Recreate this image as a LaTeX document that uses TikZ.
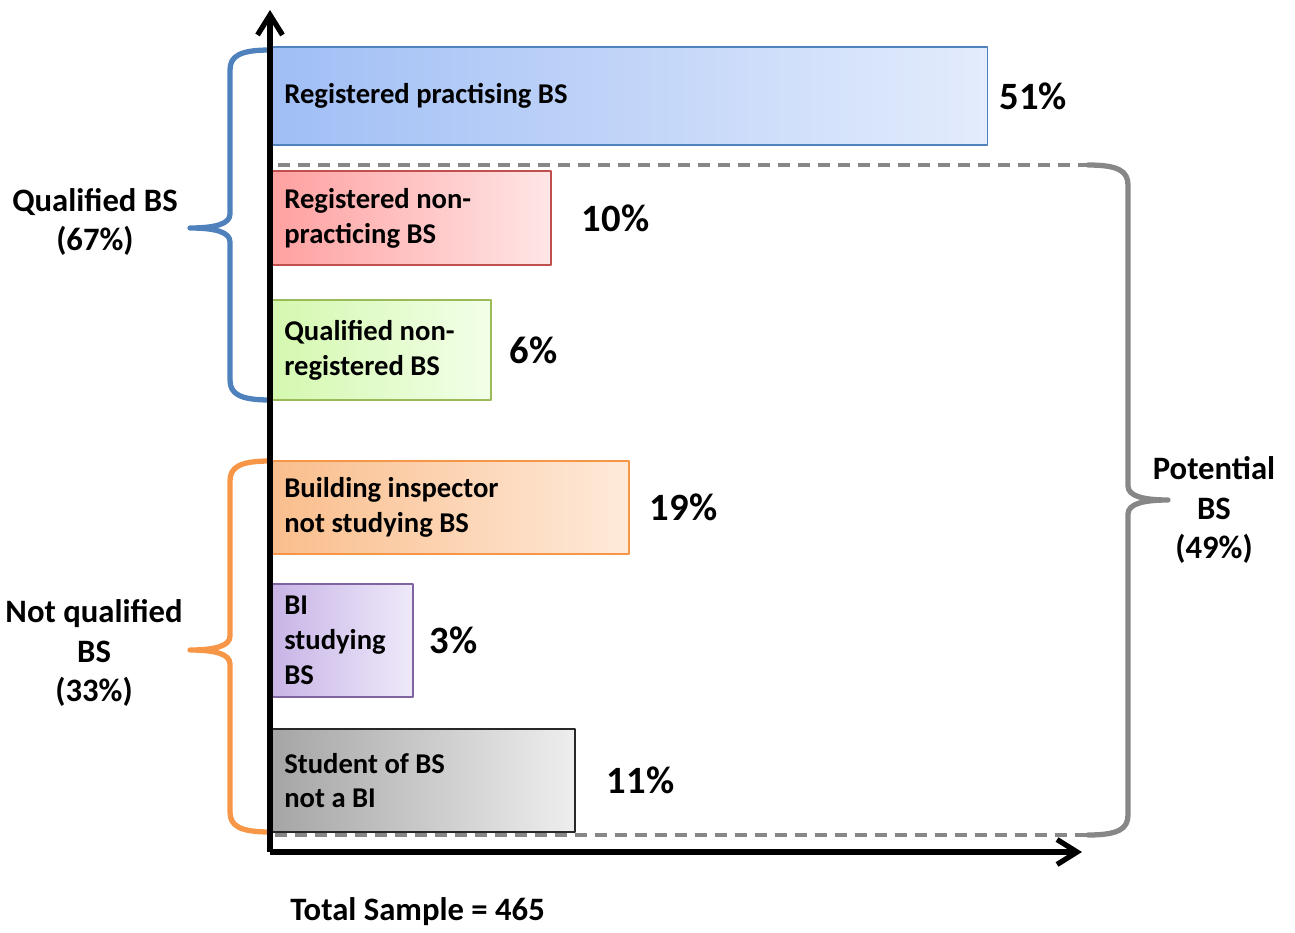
\documentclass[tikz,border=0pt]{standalone}
\usepackage{fontspec}
\setmainfont{Carlito}
\usetikzlibrary{positioning,arrows.meta}
\definecolor{bsblueD}{RGB}{79,129,189}   \definecolor{bsblueL}{RGB}{160,190,245}  \definecolor{bsblueR}{RGB}{227,236,252}
\definecolor{bsredD}{RGB}{192,80,77}     \definecolor{bsredL}{RGB}{255,160,160}   \definecolor{bsredR}{RGB}{255,230,230}
\definecolor{bsgreenD}{RGB}{155,187,89}  \definecolor{bsgreenL}{RGB}{212,248,175} \definecolor{bsgreenR}{RGB}{242,255,232}
\definecolor{bsorangeD}{RGB}{247,150,70} \definecolor{bsorangeL}{RGB}{250,190,140}\definecolor{bsorangeR}{RGB}{254,234,218}
\definecolor{bspurpleD}{RGB}{128,100,162}\definecolor{bspurpleL}{RGB}{200,180,230}\definecolor{bspurpleR}{RGB}{238,233,250}
\definecolor{bsgrayD}{RGB}{40,40,40}     \definecolor{bsgrayL}{RGB}{165,165,165}  \definecolor{bsgrayR}{RGB}{238,238,238}
\definecolor{bsgray}{RGB}{135,135,135}
\tikzset{
  bar/.style={draw, line width=.9pt, anchor=west, inner sep=0pt, minimum height=#1},
  lab/.style={anchor=west, align=left, inner sep=0pt, font=\fontsize{16.3}{19.8}\selectfont\bfseries},
  pct/.style={anchor=west, inner sep=0pt, font=\fontsize{22}{26}\selectfont\bfseries},
  side/.style={align=center, inner sep=0pt, font=\fontsize{18.6}{22.7}\selectfont\bfseries},
  bsbrace/.style={line width=3pt, line cap=round, line join=round},
  axis/.style={line width=3pt, -{Straight Barb[length=.4cm,width=.5cm,line width=3pt]}}
}
\begin{document}
\begin{tikzpicture}[x=.02cm, y=-.02cm, line join=round]
\useasboundingbox (0,0) rectangle (1295,933);
\path (270,852) coordinate (O) (270,10) coordinate (Y) (1082,852) coordinate (X);
% potential BS frame
\draw[bsgray, line width=2.4pt, dash pattern=on .24cm off .16cm] (278,165) -- (1088,165) (275,835) -- (1088,835);
% bars
\foreach \n/\y/\w/\h/\c/\t/\p/\d in {
  rp/96/14.32/1.96/bsblue/{Registered practising BS}/51/.22,
  rn/218/5.58/1.88/bsred/{Registered non-\\practicing BS}/10/.6,
  qn/350/4.38/2.0/bsgreen/{Qualified non-\\registered BS}/6/.36,
  bi/507.5/7.14/1.86/bsorange/{Building inspector\\not studying BS}/19/.4,
  bs/640.5/2.82/2.26/bspurple/{BI\\studying\\BS}/3/.32,
  st/780.5/6.06/2.06/bsgray/{Student of BS\\not a BI}/11/.62}{
  \node[bar=\h cm, minimum width=\w cm, draw=\c D, left color=\c L, right color=\c R] (\n) at (271,\y) {};
  \node[lab, right=.26cm of \n.west] (\n t) {\t};
  \node[pct, right=\d cm of \n] (\n p) {\p\%};
}
% braces
\foreach \n/\e/\s/\a/\b/\m/\c in {qb/270/-1/50/400/228/bsblueD, nb/270/-1/461/832/650/bsorangeD, pb/1088/1/165/835/500/bsgray}
\draw[bsbrace, \c] (\e,\a) .. controls +({\s*30},0) and +(0,-14) .. ({\e+\s*40},{\a+20}) -- ({\e+\s*40},{\m-14})
  .. controls +(0,10) and +({-25*\s},0) .. ({\e+\s*80},\m) coordinate (\n)
  .. controls +({-25*\s},0) and +(0,-10) .. ({\e+\s*40},{\m+14}) -- ({\e+\s*40},{\b-20})
  .. controls +(0,14) and +({\s*30},0) .. (\e,\b);
\node[side, left=.24cm of qb, yshift=.12cm] (qual) {Qualified BS\\(67\%)};
\node[side, left=.14cm of nb, yshift=-.06cm] (notq) {Not qualified\\BS\\(33\%)};
\node[side] (pot) at (1214,510) {Potential\\BS\\(49\%)};
\node[side, anchor=west] (total) at (290,912) {Total Sample = 465};
% axes
\draw[axis] (O) -- (Y);
\draw[axis] (O) -- (X);
\end{tikzpicture}
\end{document}
